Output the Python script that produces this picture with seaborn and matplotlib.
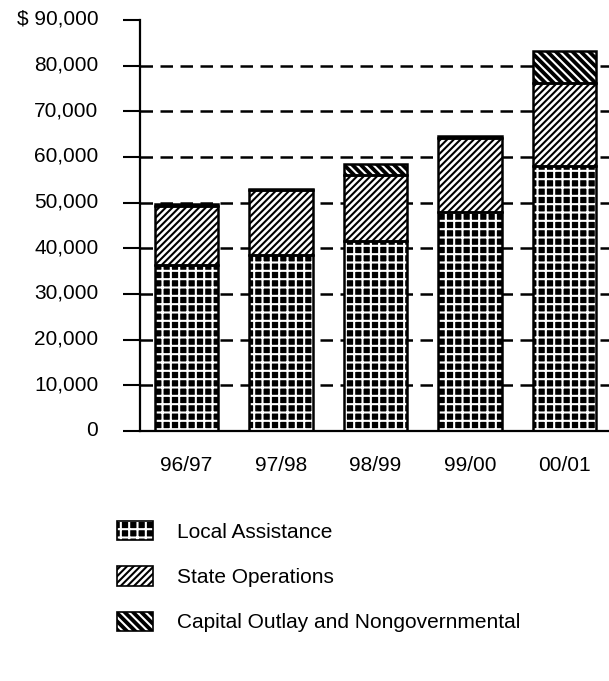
import matplotlib
matplotlib.use("Agg")
import matplotlib.pyplot as plt
from matplotlib.patches import Patch
from matplotlib.legend_handler import HandlerTuple
from matplotlib.transforms import ScaledTranslation
import numpy as np
import pandas as pd
import seaborn as sns

# Budget expenditures by fiscal year (thousands of dollars)
years = ["96/97", "97/98", "98/99", "99/00", "00/01"]
local_assistance = [36400, 38600, 41700, 47900, 58100]
state_operations = [12900, 14200, 14400, 16350, 18200]
capital_outlay = [400, 300, 2400, 300, 6900]
series_names = ["Local Assistance", "State Operations",
                "Capital Outlay and Nongovernmental"]
y_ticks = [0, 10000, 20000, 30000, 40000, 50000, 60000, 70000, 80000, 90000]
y_tick_labels = ["0", "10,000", "20,000", "30,000", "40,000", "50,000",
                 "60,000", "70,000", "80,000", "$ 90,000"]

sns.set_theme(style="white")
plt.rcParams["font.family"] = ["Liberation Sans", "DejaVu Sans"]
plt.rcParams["hatch.linewidth"] = 1.5

df = pd.DataFrame({"year": years, "local": local_assistance,
                   "state": state_operations, "capital": capital_outlay})
df["lvl1"] = df["local"]
df["lvl2"] = df["lvl1"] + df["state"]
df["lvl3"] = df["lvl2"] + df["capital"]

fig = plt.figure(figsize=(6.09, 6.81), dpi=100)
ax = fig.add_axes([140 / 609, 1 - 431 / 681, 469 / 609, 411 / 681])

# (column, face colour, hatch colour, hatch pattern) drawn tallest first
styles = [
    ("lvl3", "black", "white", "\\\\\\\\"),
    ("lvl2", "white", "black", "/////"),
    ("lvl1", "black", "white", "++"),
]
bar_w = 0.667
for col, face, hcol, hatch in styles:
    n_before = len(ax.patches)
    sns.barplot(data=df, x="year", y=col, ax=ax, width=bar_w,
                color=face, saturation=1, zorder=2)
    for p in ax.patches[n_before:]:
        p.set_facecolor(face)
        p.set_edgecolor(hcol)
        p.set_hatch(hatch)
        p.set_linewidth(0)

# Black outlines around every stacked segment
pos = np.arange(len(years))
bottoms = [np.zeros(len(years)), df["lvl1"].values, df["lvl2"].values]
heights = [df["local"].values, df["state"].values, df["capital"].values]
for b, h in zip(bottoms, heights):
    ax.bar(pos, h, bottom=b, width=bar_w, fill=False, edgecolor="black",
           linewidth=1.8, zorder=3)

# Dashed reference lines
for yv in y_ticks[1:-1]:
    ax.axhline(yv, color="black", lw=1.8, ls=(0, (5, 3)), zorder=1)

ax.set_xlim(-0.492, 4.471)
ax.set_ylim(0, 90000)
ax.set_yticks(y_ticks)
ax.set_yticklabels(y_tick_labels)
ax.set_xlabel("")
ax.set_ylabel("")
ax.tick_params(axis="y", length=12, width=1.5, color="black", direction="out",
               left=True, pad=18, labelsize=15, labelcolor="black")
ax.tick_params(axis="x", length=0, pad=18, labelsize=15, labelcolor="black")
lift = ScaledTranslation(0, 2 / 72, fig.dpi_scale_trans)
for lab in ax.get_yticklabels():
    lab.set_transform(lab.get_transform() + lift)
for s in ["top", "right"]:
    ax.spines[s].set_visible(False)
for s in ["left", "bottom"]:
    ax.spines[s].set_color("black")
    ax.spines[s].set_linewidth(1.6)
ax.spines["bottom"].set_zorder(4)

# Legend swatches: hatched fill with a black outline on top
fills = [
    Patch(facecolor="black", edgecolor="white", hatch="++", linewidth=0),
    Patch(facecolor="white", edgecolor="black", hatch="/////", linewidth=0),
    Patch(facecolor="black", edgecolor="white", hatch="\\\\\\\\", linewidth=0),
]
handles = [(f, Patch(fill=False, edgecolor="black", linewidth=1.2))
           for f in fills]
leg = fig.legend(handles, series_names, loc="upper left",
                 bbox_to_anchor=(98.5 / 609, 1 - 502 / 681), frameon=False,
                 fontsize=15, handlelength=1.73, handleheight=1.06,
                 labelspacing=1.18, handletextpad=1.15, borderpad=0.4,
                 handler_map={tuple: HandlerTuple(ndivide=1, pad=0)})
for t in leg.get_texts():
    t.set_color("black")

fig.savefig("out.png", dpi=100, facecolor="white")
